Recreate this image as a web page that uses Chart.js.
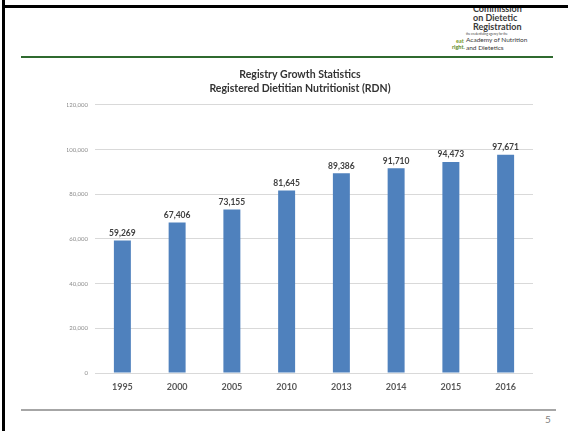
<!DOCTYPE html>
<html>
<head>
<meta charset="utf-8">
<script src="https://cdn.jsdelivr.net/npm/chart.js@4"></script>
<style>
  html, body { margin: 0; padding: 0; background: #fff; }
  body { width: 570px; height: 431px; position: relative; overflow: hidden; font-family: Lato, sans-serif; }
  #chartBox { position: absolute; left: 40px; top: 62px; width: 500px; height: 339px; }
  .bar { position: absolute; background: #000; z-index: 5; }
  .rule { position: absolute; height: 2px; }
  .logo { position: absolute; color: #3a3a3a; white-space: nowrap; line-height: 1; }
  .pageNum { position: absolute; left: 545px; top: 413px; font-size: 10px; color: #7f7f7f; }
</style>
</head>
<body>
<!-- slide frame -->
<div class="bar" style="left:2px; top:0; width:3px; height:431px;"></div>
<div class="bar" style="left:2px; top:5px; width:566px; height:3px;"></div>
<div class="rule" style="left:21px; top:56px; width:532px; background:#2f6a2f;"></div>
<div class="rule" style="left:21px; top:409px; width:535px; background:#a6a6a6;"></div>

<!-- CDR logo text -->
<div class="logo" style="left:473px; top:4px; font-size:9px; font-weight:bold;">Commission</div>
<div class="logo" style="left:473px; top:13px; font-size:9px; font-weight:bold;">on Dietetic</div>
<div class="logo" style="left:473px; top:22px; font-size:9px; font-weight:bold;">Registration</div>
<div class="logo" style="left:466px; top:33px; font-size:3px;">the credentialing agency for the</div>
<div class="logo" style="left:466px; top:37px; font-size:6.5px;">Academy of Nutrition</div>
<div class="logo" style="left:466px; top:45px; font-size:6.5px;">and Dietetics</div>
<div class="logo" style="left:456px; top:39px; font-size:5.5px; font-weight:bold; color:#7a9a2a;">eat</div>
<div class="logo" style="left:452px; top:45px; font-size:5.5px; font-weight:bold; color:#5a8a2a;">right.</div>

<div class="pageNum">5</div>

<div id="chartBox"><canvas id="growthChart"></canvas></div>

<script>
// Registry growth data
const years = ['1995', '2000', '2005', '2010', '2013', '2014', '2015', '2016'];
const rdnCounts = [59269, 67406, 73155, 81645, 89386, 91710, 94473, 97671];
const titleLines = ['Registry Growth Statistics', 'Registered Dietitian Nutritionist (RDN)'];
const yTicks = [0, 20000, 40000, 60000, 80000, 100000, 120000];

const FONT = 'Lato, sans-serif';

function fmt(n) {
    return n.toLocaleString('en-US');
}

// Draws the value above each bar
const barValueLabels = {
    id: 'barValueLabels',
    afterDatasetsDraw(chart) {
        const ctx = chart.ctx;
        const meta = chart.getDatasetMeta(0);
        ctx.save();
        ctx.font = 'bold 8.5px ' + FONT;
        ctx.fillStyle = '#404040';
        ctx.textAlign = 'center';
        ctx.textBaseline = 'bottom';
        meta.data.forEach((bar, i) => {
            ctx.fillText(fmt(rdnCounts[i]), bar.x, bar.y - 3);
        });
        ctx.restore();
    }
};

function initGrowthChart() {
    const canvas = document.getElementById('growthChart');
    if (!canvas) return null;

    return new Chart(canvas.getContext('2d'), {
        type: 'bar',
        data: {
            labels: years,
            datasets: [{
                label: 'RDN',
                data: rdnCounts,
                backgroundColor: '#4f81bd',
                borderWidth: 0,
                categoryPercentage: 1,
                barPercentage: 0.31
            }]
        },
        options: {
            responsive: true,
            maintainAspectRatio: false,
            animation: false,
            // left padding keeps the title centred on the slide, not the plot
            layout: { padding: { left: 27, right: 7, top: 0, bottom: 0 } },
            scales: {
                x: {
                    grid: { display: false },
                    border: { display: false },
                    ticks: {
                        color: '#595959',
                        font: { family: FONT, size: 9, weight: 'bold' },
                        padding: 1,
                        maxRotation: 0
                    },
                    afterFit: scale => { scale.height = 28; }
                },
                y: {
                    min: 0,
                    max: 120000,
                    afterBuildTicks: scale => {
                        scale.ticks = yTicks.map(v => ({ value: v }));
                    },
                    grid: { color: '#d9d9d9', drawTicks: false },
                    border: { display: false },
                    ticks: {
                        color: '#8c8c8c',
                        font: { family: FONT, size: 6 },
                        padding: 7,
                        callback: v => fmt(v)
                    },
                    afterFit: scale => { scale.width = 28; }
                }
            },
            plugins: {
                legend: { display: false },
                tooltip: { enabled: false },
                title: {
                    display: true,
                    text: titleLines,
                    color: '#333333',
                    font: { family: FONT, size: 10.5, weight: 'bold', lineHeight: 1.33 },
                    padding: { top: 6, bottom: 9 }
                }
            }
        },
        plugins: [barValueLabels]
    });
}

document.addEventListener('DOMContentLoaded', initGrowthChart);
</script>
</body>
</html>
